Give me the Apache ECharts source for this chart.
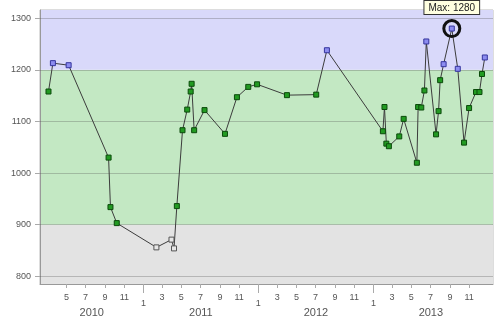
<!DOCTYPE html>
<html><head><meta charset="utf-8">
<script src="https://cdn.jsdelivr.net/npm/echarts@6/dist/echarts.min.js"></script>
<style>html,body{margin:0;padding:0;background:#fff}#c{width:500px;height:328px}</style>
</head><body><div id="c"></div>
<script>
// ---- data ----
const dates = ['2010-03-05','2010-03-19','2010-05-08','2010-09-12','2010-09-18','2010-10-08',
'2011-02-11','2011-03-31','2011-04-08','2011-04-17','2011-05-05','2011-05-20','2011-05-31','2011-06-03','2011-06-11','2011-07-14','2011-09-17','2011-10-25','2011-11-30','2011-12-28',
'2012-04-01','2012-07-03','2012-08-06',
'2013-01-31','2013-02-05','2013-02-11','2013-02-19','2013-03-24','2013-04-07','2013-05-19','2013-05-23','2013-06-02','2013-06-12','2013-06-18','2013-07-19','2013-07-27','2013-08-01','2013-08-12','2013-09-07','2013-09-26','2013-10-16','2013-11-01','2013-11-23','2013-12-04','2013-12-12','2013-12-21'];
const values = [1158,1213,1209,1030,934,903,
856,871,854,936,1083,1123,1158,1173,1083,1122,1076,1147,1167,1172,
1151,1152,1238,
1081,1128,1057,1052,1071,1105,1020,1128,1127,1160,1255,1075,1120,1180,1211,1280,1202,1059,1126,1157,1157,1192,1224];
const years = [2010, 2011, 2012, 2013];
const tickMonths = [1, 3, 5, 7, 9, 11];
const yTicks = [800, 900, 1000, 1100, 1200, 1300];
const bandEdges = [785, 900, 1200, 1316];
const xRange = ['2010-02-06', '2014-01-16'];

// ---- helpers: x axis is a value axis counted in days since 2010-01-01 ----
const DAY = 86400000, EPOCH = Date.UTC(2010, 0, 1);
function dayOf(y, m, d){ return (Date.UTC(y, m-1, d) - EPOCH) / DAY; }
function dayStr(s){ const p = s.split('-').map(Number); return dayOf(p[0], p[1], p[2]); }
function dateOfDay(v){ return new Date(EPOCH + v * DAY); }
const xMin = dayStr(xRange[0]), xMax = dayStr(xRange[1]);
const FONT = 'Liberation Sans';
const bandFill = ['#e3e3e3', '#c3e8c3', '#d9d9fa'];
const markerStyle = [
  {color:'#e6e6e6', borderColor:'#555555'},
  {color:'#229a22', borderColor:'#0b4a0b'},
  {color:'#8c8cf0', borderColor:'#34349c'}
];
function bandOf(v){ for (let i = 0; i < 3; i++) if (v < bandEdges[i+1]) return i; return 2; }

const monthVals = [], janVals = [];
years.concat([2014]).forEach(y => tickMonths.forEach(m => {
  const t = dayOf(y, m, 1);
  if (t >= xMin + 30 && t <= xMax - 30) { monthVals.push(t); if (m === 1) janVals.push(t); }
}));
const yearCenters = years.map(y => {
  const a = Math.max(dayOf(y,1,1), xMin), b = Math.min(dayOf(y+1,1,1), xMax);
  return (a + b) / 2;
});

const seriesData = dates.map((d, i) => ({
  value: [dayStr(d), values[i]],
  itemStyle: Object.assign({borderWidth:1}, markerStyle[bandOf(values[i])])
}));

const chart = echarts.init(document.getElementById('c'), null, {renderer:'canvas'});
chart.setOption({
  animation: false,
  textStyle: {fontFamily: FONT},
  grid: {left:40, right:7, top:10, bottom:44, show:true, borderColor:'#bbbbbb', borderWidth:1},
  xAxis: [{
    type:'value', min:xMin, max:xMax,
    axisLine:{show:true, lineStyle:{color:'#999999'}},
    axisTick:{show:true, customValues:monthVals, length:4, lineStyle:{color:'#aaaaaa'}},
    axisLabel:{customValues:monthVals, fontSize:9, color:'#555555', margin:9, fontFamily:FONT,
      formatter: v => { const m = dateOfDay(v).getUTCMonth()+1; return m === 1 ? '{j|1}' : String(m); },
      rich:{j:{fontSize:9, color:'#555555', fontFamily:FONT, padding:[6,0,0,0]}}},
    splitLine:{show:false}
  },{
    type:'value', min:xMin, max:xMax, position:'bottom',
    axisLine:{show:false},
    axisTick:{show:true, customValues:janVals, length:9, lineStyle:{color:'#aaaaaa'}},
    axisLabel:{customValues:yearCenters, fontSize:11, color:'#555555', margin:23, fontFamily:FONT,
      formatter: v => String(dateOfDay(v).getUTCFullYear())},
    splitLine:{show:false}
  }],
  yAxis: {
    type:'value', min:bandEdges[0], max:bandEdges[3],
    axisLine:{show:true, lineStyle:{color:'#999999'}},
    axisTick:{show:true, customValues:yTicks, length:5, lineStyle:{color:'#aaaaaa'}},
    axisLabel:{customValues:yTicks, fontSize:9, color:'#555555', margin:9, fontFamily:FONT,
      formatter: v => String(v)},
    splitLine:{show:false}
  },
  series: [{
    type:'line', xAxisIndex:0, data: seriesData,
    symbol:'rect', symbolSize:5, showAllSymbol:true,
    lineStyle:{color:'#3c3c3c', width:1},
    emphasis:{disabled:true},
    markArea:{silent:true, z:0,
      data: [0,1,2].map(i => [{yAxis:bandEdges[i], itemStyle:{color:bandFill[i]}}, {yAxis:bandEdges[i+1]}])},
    markLine:{silent:true, z:1, symbol:'none', label:{show:false},
      lineStyle:{color:'rgba(80,80,80,0.3)', type:'solid', width:1},
      data: yTicks.map(v => ({yAxis:v}))},
    markPoint:{silent:true, symbol:'circle', symbolSize:16,
      itemStyle:{color:'rgba(0,0,0,0)', borderColor:'#111111', borderWidth:3},
      label:{show:true, position:'top', distance:5, formatter: p => 'Max: ' + p.value,
        fontSize:10, color:'#222222', fontFamily:FONT, backgroundColor:'#ffffe0',
        borderColor:'#333333', borderWidth:1, padding:[2,4,1,4]},
      data:[{type:'max'}]}
  }]
});
</script></body></html>
